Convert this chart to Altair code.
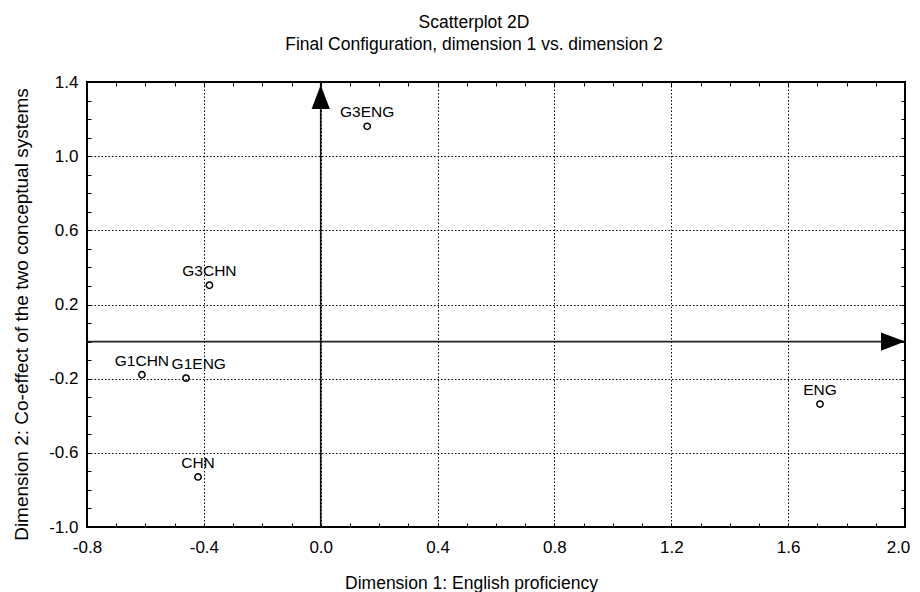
import altair as alt
import pandas as pd

# ---- data ----
names = ["G3ENG", "G3CHN", "G1CHN", "G1ENG", "CHN", "ENG"]
dim1 = [0.159, -0.381, -0.612, -0.461, -0.420, 1.709]
dim2 = [1.161, 0.304, -0.179, -0.197, -0.730, -0.337]

x_domain = [-0.8, 2.0]
y_domain = [-1.0, 1.4]
x_major = [-0.8, -0.4, 0.0, 0.4, 0.8, 1.2, 1.6, 2.0]
y_major = [-1.0, -0.6, -0.2, 0.2, 0.6, 1.0, 1.4]
x_minor = [-0.8, -0.7, -0.6, -0.5, -0.4, -0.3, -0.2, -0.1, 0.0, 0.1, 0.2, 0.3,
           0.4, 0.5, 0.6, 0.7, 0.8, 0.9, 1.0, 1.1, 1.2, 1.3, 1.4, 1.5, 1.6,
           1.7, 1.8, 1.9, 2.0]
y_minor = [-1.0, -0.9, -0.8, -0.7, -0.6, -0.5, -0.4, -0.3, -0.2, -0.1, 0.0,
           0.1, 0.2, 0.3, 0.4, 0.5, 0.6, 0.7, 0.8, 0.9, 1.0, 1.1, 1.2, 1.3, 1.4]

FONT = "Liberation Sans"
MINUS_FIX = "replace(datum.label, '\u2212', '-')"

df = pd.DataFrame({"name": names, "d1": dim1, "d2": dim2})
hline = pd.DataFrame({"x": [x_domain[0]], "x2": [x_domain[1]], "y": [0.0]})
vline = pd.DataFrame({"x": [0.0], "y": [y_domain[0]], "y2": [y_domain[1]]})
harrow = pd.DataFrame({"x": [x_domain[1]], "y": [0.0]})
varrow = pd.DataFrame({"x": [0.0], "y": [y_domain[1]]})

xs = alt.Scale(domain=x_domain, nice=False, zero=False)
ys = alt.Scale(domain=y_domain, nice=False, zero=False)


def minor_axis(values, orient):
    return alt.Axis(values=values, orient=orient, offset=-4, tickSize=4,
                    ticks=True, tickColor="black", tickWidth=1, labels=False,
                    domain=False, grid=False)


x_axis = alt.Axis(
    orient="bottom", values=x_major, format=".1f", labelExpr=MINUS_FIX,
    grid=True, gridColor="black", gridDash=[1.5, 2], gridWidth=1, gridOpacity=1,
    ticks=False, tickSize=0, domain=False,
    labelFont=FONT, labelFontSize=17, labelColor="black", labelPadding=12,
    labelFlush=False, labelOverlap=False,
    labelOffset=alt.condition(f"datum.value >= {x_domain[1]}", alt.value(-7), alt.value(0)),
    title="Dimension 1: English proficiency", titleFont=FONT, titleFontSize=17.5,
    titleFontWeight="normal", titleColor="black", titleX=384, titleY=61,
    titleBaseline="alphabetic", titleAlign="center",
)
y_axis = alt.Axis(
    orient="left", values=y_major, format=".1f", labelExpr=MINUS_FIX,
    grid=True, gridColor="black", gridDash=[1.5, 2], gridWidth=1, gridOpacity=1,
    ticks=False, tickSize=0, domain=False,
    labelFont=FONT, labelFontSize=17, labelColor="black", labelPadding=9,
    labelFlush=False, labelOverlap=False, labelBaseline="middle",
    title="Dimension 2: Co-effect of the two conceptual systems", titleFont=FONT,
    titleFontSize=19, titleFontWeight="normal", titleColor="black",
    titleX=-60, titleY=232, titleAngle=270, titleBaseline="alphabetic",
    titleAlign="center",
)

points = alt.Chart(df).mark_point(
    shape="circle", filled=False, color="black", strokeWidth=1.5, size=40, opacity=1
).encode(
    x=alt.X("d1:Q", scale=xs, axis=x_axis),
    y=alt.Y("d2:Q", scale=ys, axis=y_axis),
)

hrule = alt.Chart(hline).mark_rule(color="#222222", strokeWidth=1.6).encode(
    x=alt.X("x:Q", scale=xs, axis=minor_axis(x_minor, "bottom"), title=None),
    x2="x2:Q",
    y=alt.Y("y:Q", scale=ys, axis=minor_axis(y_minor, "left"), title=None),
)
vrule = alt.Chart(vline).mark_rule(color="#111111", strokeWidth=1.6).encode(
    x=alt.X("x:Q", scale=xs, axis=minor_axis(x_minor, "top"), title=None),
    y=alt.Y("y:Q", scale=ys, axis=minor_axis(y_minor, "right"), title=None),
    y2="y2:Q",
)

h_head = alt.Chart(harrow).mark_point(
    shape="M0,0L-2,-0.76L-2,0.76Z", filled=True, color="black", opacity=1,
    size=576, strokeWidth=0
).encode(
    x=alt.X("x:Q", scale=xs, axis=None),
    y=alt.Y("y:Q", scale=ys, axis=None),
)
v_head = alt.Chart(varrow).mark_point(
    shape="M0,0.25L-0.76,2.25L0.76,2.25Z", filled=True, color="black", opacity=1,
    size=576, strokeWidth=0
).encode(
    x=alt.X("x:Q", scale=xs, axis=None),
    y=alt.Y("y:Q", scale=ys, axis=None),
)

text_main = alt.Chart(df).transform_filter(alt.datum.name != "G1ENG").mark_text(
    font=FONT, fontSize=15.5, color="black", baseline="alphabetic",
    align="center", dy=-9
).encode(
    x=alt.X("d1:Q", scale=xs, axis=None),
    y=alt.Y("d2:Q", scale=ys, axis=None),
    text="name:N",
)
text_shift = alt.Chart(df).transform_filter(alt.datum.name == "G1ENG").mark_text(
    font=FONT, fontSize=15.5, color="black", baseline="alphabetic",
    align="center", dy=-9, dx=12.7
).encode(
    x=alt.X("d1:Q", scale=xs, axis=None),
    y=alt.Y("d2:Q", scale=ys, axis=None),
    text="name:N",
)

chart = alt.layer(
    points, hrule, vrule, h_head, v_head, text_main, text_shift
).resolve_axis(
    x="independent", y="independent"
).properties(
    width=818, height=445, autosize="none",
    padding={"left": 79, "top": 74, "right": 7, "bottom": 65},
    title=alt.TitleParams(
        text="Scatterplot 2D",
        subtitle="Final Configuration, dimension 1 vs. dimension 2",
        font=FONT, subtitleFont=FONT, fontSize=17.5, subtitleFontSize=17.5,
        fontWeight="normal", color="black", subtitleColor="black",
        anchor="middle", dx=-22, offset=20, subtitlePadding=4.5,
    ),
).configure_view(stroke="black", strokeWidth=2)

chart.save("out.html", embed_options={"renderer": "svg", "actions": False})
